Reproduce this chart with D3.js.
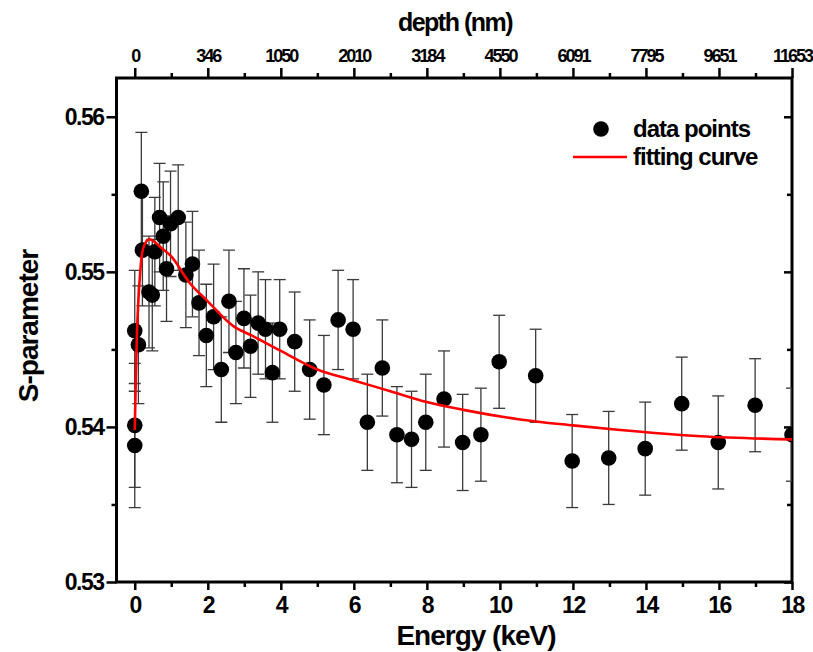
<!DOCTYPE html>
<html>
<head>
<meta charset="utf-8">
<script src="https://cdn.jsdelivr.net/npm/d3@7"></script>
<style>
	body { margin: 0; background: white; }
	svg { display: block; font-family: 'Liberation Sans', Arial, sans-serif; font-weight: bold; }
</style>
</head>
<body>
<svg></svg>
<script>
'use strict';

// measured points: energy (keV), S-parameter, error
const energy = [0, 0.1, 0, 0, 0.18, 0.21, 0.39, 0.48, 0.55, 0.68, 0.78, 0.87, 0.98, 1.19, 1.40, 1.58, 1.76, 1.96,
	2.16, 2.37, 2.58, 2.77, 2.99, 3.17, 3.38, 3.58, 3.77, 3.97, 4.38, 4.79, 5.18, 5.57, 5.98, 6.37, 6.78,
	7.18, 7.58, 7.97, 8.47, 8.98, 9.48, 9.98, 10.98, 11.98, 12.98, 13.98, 14.98, 15.98, 16.99, 18];
const sParam = [0.5462, 0.5453, 0.5401, 0.5388, 0.5552, 0.5514, 0.5487, 0.5485, 0.5513, 0.5535, 0.5523, 0.5502,
	0.5531, 0.5535, 0.5498, 0.5505, 0.5480, 0.5459, 0.5471, 0.5437, 0.5481, 0.5448, 0.5470, 0.5452, 0.5467,
	0.5463, 0.5435, 0.5463, 0.5455, 0.5437, 0.5427, 0.5469, 0.5463, 0.5403, 0.5438, 0.5395, 0.5392, 0.5403,
	0.5418, 0.5390, 0.5395, 0.5442, 0.5433, 0.5378, 0.5380, 0.5386, 0.5415, 0.5390, 0.5414, 0.5395];
const sErr = [0.0039, 0.0038, 0.0040, 0.0040, 0.0038, 0.0036, 0.0036, 0.0036, 0.0035, 0.0035, 0.0035, 0.0034,
	0.0034, 0.0034, 0.0034, 0.0034, 0.0034, 0.0033, 0.0034, 0.0034, 0.0033, 0.0033, 0.0032, 0.0033, 0.0033,
	0.0032, 0.0032, 0.0032, 0.0032, 0.0032, 0.0032, 0.0032, 0.0032, 0.0031, 0.0031, 0.0031, 0.0031, 0.0031,
	0.0031, 0.0031, 0.0030, 0.0030, 0.0030, 0.0030, 0.0030, 0.0030, 0.0030, 0.0030, 0.0030, 0.0030];

// fitting curve
const fitEnergy = [0, 0.03, 0.06, 0.1, 0.15, 0.2, 0.3, 0.4, 0.5, 0.7, 1.0, 1.5, 2.0, 2.7, 3.2, 4.0, 5.0, 6.0,
	7.0, 8.0, 9.0, 10.5, 12, 13.3, 15.5, 18];
const fitS = [0.5398, 0.5432, 0.5460, 0.5482, 0.5500, 0.5512, 0.5519, 0.5521, 0.5520, 0.5516, 0.5510, 0.5493,
	0.5481, 0.5465, 0.5459, 0.5449, 0.5437, 0.5430, 0.5423, 0.5416, 0.5411, 0.5405, 0.5401, 0.5398, 0.5394, 0.5392];

// axes
const energyTicks = [0, 2, 4, 6, 8, 10, 12, 14, 16, 18];
const energyMinor = [1, 3, 5, 7, 9, 11, 13, 15, 17];
const depthLabels = ['0', '346', '1050', '2010', '3184', '4550', '6091', '7795', '9651', '11653'];
const sTicks = [0.53, 0.54, 0.55, 0.56];
const sMinor = [0.535, 0.545, 0.555];

const opts = {
	width: 813,
	height: 652,
	left: 116.5,
	right: 792,
	top: 78,
	bottom: 582,
	tickFont: '23px',
	titleFont: '28px'
};

const svg = d3.select('svg')
	.attr('width', opts.width)
	.attr('height', opts.height);

const x = d3.scaleLinear().domain([-0.5, 18]).range([opts.left, opts.right]);
const y = d3.scaleLinear().domain([0.53, 0.5625]).range([opts.bottom, opts.top]);

const points = energy.map((e, i) => ({ e: e, s: sParam[i], err: sErr[i] }));
const fit = fitEnergy.map((e, i) => ({ e: e, s: fitS[i] }));

svg.append('clipPath').attr('id', 'plot')
	.append('rect')
	.attr('x', opts.left).attr('y', opts.top)
	.attr('width', opts.right - opts.left).attr('height', opts.bottom - opts.top);

const styleAxis = (g, size, spacing) => {
	g.select('.domain').remove();
	g.selectAll('line').attr('stroke', 'black').attr('stroke-width', 2.5);
	g.selectAll('text')
		.attr('fill', 'black')
		.style('font-size', size)
		.style('letter-spacing', spacing || '-1.5px');
};

// minor ticks first, majors on top
svg.append('g')
	.attr('transform', `translate(0,${opts.bottom})`)
	.call(d3.axisBottom(x).tickValues(energyMinor).tickSize(5).tickFormat(''))
	.call(g => styleAxis(g, opts.tickFont));
svg.append('g')
	.attr('transform', `translate(0,${opts.bottom})`)
	.call(d3.axisBottom(x).tickValues(energyTicks).tickSize(8).tickPadding(7).tickFormat(d3.format('d')))
	.call(g => styleAxis(g, opts.tickFont));

svg.append('g')
	.attr('transform', `translate(0,${opts.top})`)
	.call(d3.axisTop(x).tickValues(energyMinor).tickSize(5).tickFormat(''))
	.call(g => styleAxis(g, opts.tickFont));
svg.append('g')
	.attr('transform', `translate(0,${opts.top})`)
	.call(d3.axisTop(x).tickValues(energyTicks).tickSize(10).tickPadding(6)
		.tickFormat((d, i) => depthLabels[i]))
	.call(g => styleAxis(g, '18px', '-2px'));

svg.append('g')
	.attr('transform', `translate(${opts.left},0)`)
	.call(d3.axisLeft(y).tickValues(sMinor).tickSize(5).tickFormat(''))
	.call(g => styleAxis(g, opts.tickFont));
svg.append('g')
	.attr('transform', `translate(${opts.left},0)`)
	.call(d3.axisLeft(y).tickValues(sTicks).tickSize(10).tickPadding(3).tickFormat(d3.format('.2f')))
	.call(g => styleAxis(g, opts.tickFont));

// right side: ticks point inwards, no labels
svg.append('g')
	.attr('transform', `translate(${opts.right},0)`)
	.call(d3.axisLeft(y).tickValues(sMinor).tickSize(5).tickFormat(''))
	.call(g => styleAxis(g, opts.tickFont));
svg.append('g')
	.attr('transform', `translate(${opts.right},0)`)
	.call(d3.axisLeft(y).tickValues(sTicks).tickSize(8).tickFormat(''))
	.call(g => styleAxis(g, opts.tickFont));

// frame
svg.append('rect')
	.attr('x', opts.left).attr('y', opts.top)
	.attr('width', opts.right - opts.left).attr('height', opts.bottom - opts.top)
	.attr('fill', 'none')
	.attr('stroke', 'black')
	.attr('stroke-width', 3);

const plot = svg.append('g').attr('clip-path', 'url(#plot)');

// error bars
const bars = plot.append('g')
	.attr('stroke', '#3a3a3a')
	.attr('stroke-width', 1.3)
	.selectAll('g')
	.data(points)
	.join('g');

bars.append('line')
	.attr('x1', d => x(d.e)).attr('x2', d => x(d.e))
	.attr('y1', d => y(d.s - d.err)).attr('y2', d => y(d.s + d.err));
bars.append('line')
	.attr('x1', d => x(d.e) - 6).attr('x2', d => x(d.e) + 6)
	.attr('y1', d => y(d.s + d.err)).attr('y2', d => y(d.s + d.err));
bars.append('line')
	.attr('x1', d => x(d.e) - 6).attr('x2', d => x(d.e) + 6)
	.attr('y1', d => y(d.s - d.err)).attr('y2', d => y(d.s - d.err));

plot.append('g')
	.selectAll('circle')
	.data(points)
	.join('circle')
	.attr('cx', d => x(d.e))
	.attr('cy', d => y(d.s))
	.attr('r', 7.8)
	.attr('fill', 'black');

plot.append('path')
	.datum(fit)
	.attr('fill', 'none')
	.attr('stroke', '#ff0000')
	.attr('stroke-width', 2.6)
	.attr('d', d3.line().x(d => x(d.e)).y(d => y(d.s)).curve(d3.curveMonotoneX));

// legend
const legend = svg.append('g').style('font-size', '24px').style('letter-spacing', '-1px');
legend.append('circle').attr('cx', 601).attr('cy', 129).attr('r', 7.8).attr('fill', 'black');
legend.append('text').attr('x', 633).attr('y', 137).text('data points');
legend.append('line')
	.attr('x1', 573).attr('x2', 627).attr('y1', 157).attr('y2', 157)
	.attr('stroke', '#ff0000').attr('stroke-width', 2.6);
legend.append('text').attr('x', 633).attr('y', 165).text('fitting curve');

// titles
svg.append('text')
	.attr('x', 455).attr('y', 31)
	.attr('text-anchor', 'middle')
	.style('font-size', '25px').style('letter-spacing', '-1.5px')
	.text('depth (nm)');

svg.append('text')
	.attr('x', 476).attr('y', 645)
	.attr('text-anchor', 'middle')
	.style('font-size', opts.titleFont).style('letter-spacing', '-1px')
	.text('Energy (keV)');

svg.append('text')
	.attr('transform', `translate(38,${(opts.top + opts.bottom) / 2 - 4}) rotate(-90)`)
	.attr('text-anchor', 'middle')
	.style('font-size', opts.titleFont).style('letter-spacing', '-1px')
	.text('S-parameter');
</script>
</body>
</html>
